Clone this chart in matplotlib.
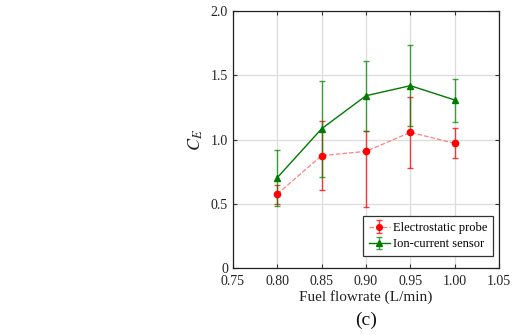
import matplotlib
matplotlib.use("Agg")
import matplotlib.pyplot as plt
from matplotlib.ticker import FuncFormatter

plt.rcParams["font.family"] = ["Liberation Serif", "DejaVu Serif"]
plt.rcParams["mathtext.fontset"] = "stix"

flow = [0.80, 0.85, 0.90, 0.95, 1.00]

probe = [0.577, 0.875, 0.908, 1.056, 0.970]
probe_lo = [0.50, 0.605, 0.479, 0.779, 0.854]
probe_hi = [0.65, 1.144, 1.069, 1.327, 1.087]

ion = [0.704, 1.084, 1.340, 1.418, 1.307]
ion_lo = [0.486, 0.711, 1.069, 1.107, 1.136]
ion_hi = [0.916, 1.454, 1.607, 1.731, 1.472]

fig = plt.figure(figsize=(5.13, 3.35), dpi=100)
ax = fig.add_axes([0.454, 0.199, 0.519, 0.769])

ax.grid(True, color="#dcdcdc", lw=0.9)
ax.set_axisbelow(True)

perr = [[v - l for v, l in zip(probe, probe_lo)], [h - v for v, h in zip(probe, probe_hi)]]
ierr = [[v - l for v, l in zip(ion, ion_lo)], [h - v for v, h in zip(ion, ion_hi)]]

eb1 = ax.errorbar(flow, probe, yerr=perr, color="#ff8080", ls="--", lw=0.9,
                  marker="o", ms=4.5, mfc="#ff0000", mec="#ff0000",
                  ecolor="#ff0000", elinewidth=1.0, capsize=2.5, capthick=1.0,
                  label="Electrostatic probe")
eb2 = ax.errorbar(flow, ion, yerr=ierr, color="#007a00", ls="-", lw=1.0,
                  marker="^", ms=5, mfc="#007a00", mec="#007a00",
                  ecolor="#008a00", elinewidth=1.0, capsize=2.5, capthick=1.0,
                  label="Ion-current sensor")
for eb in (eb1, eb2):
    for c in eb[1]:
        c.set_alpha(0.75)
    for c in eb[2]:
        c.set_alpha(0.75)

ax.set_xlim(0.75, 1.05)
ax.set_ylim(0, 2.0)
ax.set_xticks([0.75, 0.80, 0.85, 0.90, 0.95, 1.00, 1.05])
ax.set_yticks([0, 0.5, 1.0, 1.5, 2.0])
ax.xaxis.set_major_formatter(FuncFormatter(lambda v, p: f"{v:.2f}"))
ax.yaxis.set_major_formatter(FuncFormatter(lambda v, p: "0" if v == 0 else f"{v:.1f}"))
ax.tick_params(direction="in", top=True, right=True, labelsize=10, length=3,
               colors="#333333", labelcolor="#222222")
ax.tick_params(axis="x", pad=5)
for s in ax.spines.values():
    s.set_color("#222222")
    s.set_linewidth(0.9)

ax.set_xlabel("Fuel flowrate (L/min)", fontsize=11, labelpad=1, color="#222222")
ax.set_ylabel("$C_E$", fontsize=13, labelpad=4, color="#222222")
fig.text(0.5 * (0.454 + 0.973), 0.045, "(c)", ha="center", va="center",
         fontsize=14, color="#111111")

leg = ax.legend(loc="lower right", bbox_to_anchor=(0.977, 0.048), fontsize=9,
                fancybox=False, framealpha=1, edgecolor="#333333",
                borderaxespad=0, handlelength=1.7, handletextpad=0.25,
                borderpad=0.45, labelspacing=0.35, markerscale=0.9)
leg.get_frame().set_linewidth(0.9)

fig.savefig("out.png", dpi=100)
